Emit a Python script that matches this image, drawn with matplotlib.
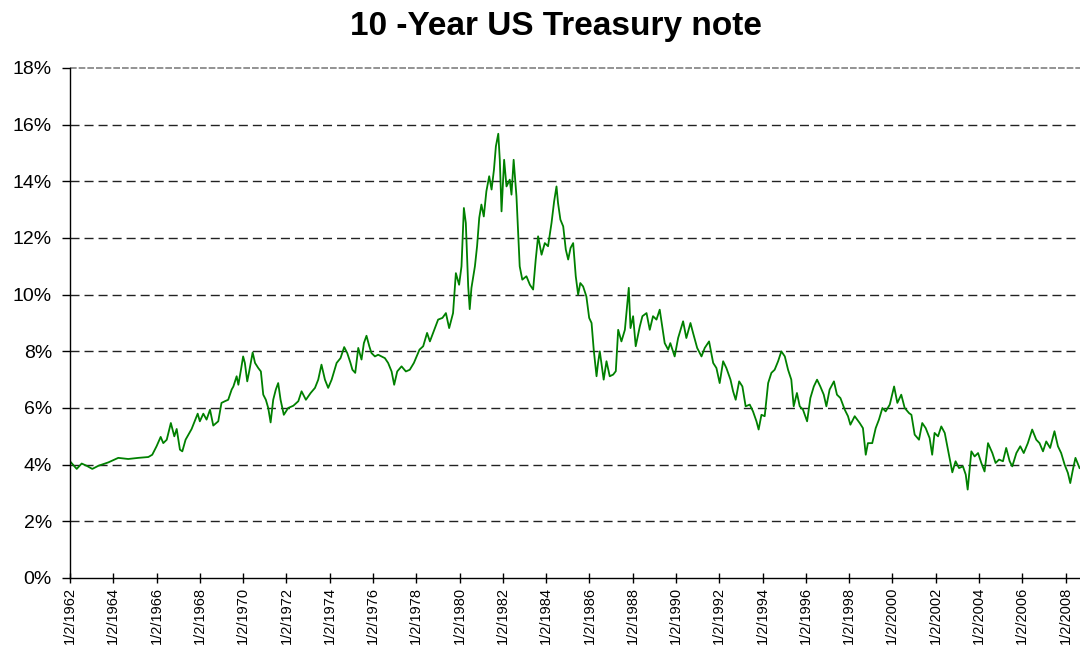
import numpy as np
import matplotlib.pyplot as plt

# 10-year note yield in percent; x is years elapsed since 1/2/1962
years_since_1962 = [
    0.00, 0.31, 0.54, 0.77, 1.03, 1.31, 1.77, 2.23, 2.69, 3.16,
    3.62, 3.80, 4.00, 4.19, 4.31, 4.47, 4.66, 4.82, 4.93, 5.08,
    5.19, 5.34, 5.62, 5.90, 6.00, 6.16, 6.31, 6.47, 6.62, 6.85,
    7.00, 7.16, 7.31, 7.47, 7.55, 7.70, 7.78, 7.90, 8.00, 8.08,
    8.19, 8.28, 8.44, 8.55, 8.70, 8.82, 8.93, 9.05, 9.16, 9.27,
    9.39, 9.51, 9.62, 9.73, 9.88, 10.08, 10.32, 10.55, 10.70, 10.90,
    11.12, 11.32, 11.47, 11.62, 11.78, 11.93, 12.09, 12.32, 12.50, 12.67,
    12.81, 12.96, 13.05, 13.18, 13.32, 13.47, 13.58, 13.70, 13.83, 13.93,
    14.09, 14.24, 14.40, 14.55, 14.70, 14.86, 14.98, 15.12, 15.32, 15.52,
    15.70, 15.89, 16.15, 16.32, 16.50, 16.63, 16.86, 17.01, 17.21, 17.37,
    17.52, 17.70, 17.83, 17.98, 18.09, 18.20, 18.29, 18.40, 18.47, 18.55,
    18.71, 18.81, 18.91, 19.01, 19.12, 19.24, 19.37, 19.48, 19.59, 19.68,
    19.79, 19.86, 19.94, 20.06, 20.17, 20.32, 20.40, 20.50, 20.63, 20.70,
    20.78, 20.90, 21.09, 21.25, 21.40, 21.52, 21.63, 21.79, 21.94, 22.09,
    22.25, 22.37, 22.48, 22.55, 22.66, 22.79, 22.91, 23.02, 23.13, 23.25,
    23.37, 23.48, 23.58, 23.71, 23.86, 23.99, 24.10, 24.20, 24.33, 24.40,
    24.48, 24.66, 24.79, 24.94, 25.10, 25.22, 25.33, 25.48, 25.64, 25.71,
    25.82, 25.90, 26.02, 26.14, 26.33, 26.45, 26.64, 26.79, 26.94, 27.10,
    27.25, 27.48, 27.64, 27.74, 27.94, 28.10, 28.33, 28.48, 28.67, 28.79,
    28.98, 29.18, 29.33, 29.53, 29.72, 29.87, 30.02, 30.18, 30.33, 30.52,
    30.64, 30.76, 30.92, 31.07, 31.22, 31.41, 31.56, 31.72, 31.82, 31.95,
    32.10, 32.26, 32.41, 32.56, 32.72, 32.87, 33.03, 33.18, 33.33, 33.44,
    33.59, 33.72, 33.87, 34.06, 34.21, 34.37, 34.52, 34.67, 34.83, 34.95,
    35.10, 35.30, 35.44, 35.60, 35.80, 35.95, 36.06, 36.26, 36.49, 36.64,
    36.77, 36.87, 37.07, 37.23, 37.38, 37.54, 37.69, 37.88, 38.08, 38.23,
    38.41, 38.57, 38.77, 38.88, 39.03, 39.23, 39.38, 39.54, 39.72, 39.84,
    39.95, 40.11, 40.26, 40.42, 40.57, 40.77, 40.92, 41.08, 41.26, 41.39,
    41.48, 41.65, 41.80, 41.96, 42.11, 42.26, 42.42, 42.62, 42.77, 42.93,
    43.11, 43.26, 43.42, 43.54, 43.73, 43.91, 44.07, 44.26, 44.46, 44.65,
    44.80, 44.96, 45.11, 45.29, 45.49, 45.65, 45.80, 45.96, 46.11, 46.22,
    46.34, 46.46, 46.65,
]
yields = [
    4.12, 3.85, 4.04, 3.96, 3.85, 3.96, 4.08, 4.24, 4.20, 4.24,
    4.27, 4.35, 4.65, 4.98, 4.76, 4.88, 5.47, 5.00, 5.26, 4.53,
    4.47, 4.88, 5.26, 5.80, 5.53, 5.80, 5.59, 5.94, 5.38, 5.53,
    6.18, 6.24, 6.29, 6.65, 6.76, 7.12, 6.82, 7.35, 7.82, 7.59,
    6.94, 7.29, 7.96, 7.59, 7.41, 7.29, 6.47, 6.29, 6.00, 5.49,
    6.29, 6.65, 6.88, 6.29, 5.76, 6.00, 6.08, 6.24, 6.59, 6.29,
    6.53, 6.71, 7.00, 7.53, 7.00, 6.71, 7.00, 7.59, 7.76, 8.15,
    7.94, 7.59, 7.35, 7.24, 8.12, 7.71, 8.29, 8.55, 8.18, 7.94,
    7.82, 7.88, 7.82, 7.76, 7.59, 7.29, 6.82, 7.29, 7.47, 7.29,
    7.35, 7.59, 8.06, 8.18, 8.65, 8.35, 8.82, 9.12, 9.18, 9.35,
    8.82, 9.35, 10.76, 10.35, 11.00, 13.06, 12.53, 10.29, 9.49, 10.24,
    11.00, 11.71, 12.71, 13.18, 12.76, 13.65, 14.18, 13.71, 14.41, 15.24,
    15.68, 14.76, 12.94, 14.76, 13.82, 14.06, 13.53, 14.76, 13.47, 12.29,
    11.00, 10.53, 10.65, 10.35, 10.18, 11.24, 12.06, 11.41, 11.82, 11.71,
    12.53, 13.29, 13.82, 13.24, 12.65, 12.41, 11.59, 11.24, 11.65, 11.82,
    10.65, 10.00, 10.41, 10.29, 9.94, 9.18, 9.00, 8.06, 7.12, 7.59,
    8.00, 7.00, 7.65, 7.12, 7.18, 7.30, 8.76, 8.35, 8.76, 9.35,
    10.24, 8.82, 9.24, 8.18, 8.88, 9.24, 9.35, 8.76, 9.24, 9.12,
    9.47, 8.29, 8.06, 8.29, 7.82, 8.47, 9.06, 8.47, 9.00, 8.65,
    8.12, 7.82, 8.12, 8.35, 7.59, 7.41, 6.88, 7.65, 7.41, 7.00,
    6.59, 6.29, 6.94, 6.76, 6.06, 6.12, 5.88, 5.53, 5.24, 5.76,
    5.71, 6.88, 7.24, 7.35, 7.65, 8.00, 7.82, 7.35, 7.00, 6.06,
    6.53, 6.06, 5.94, 5.53, 6.35, 6.76, 7.00, 6.76, 6.47, 6.06,
    6.65, 6.94, 6.47, 6.35, 5.94, 5.71, 5.41, 5.71, 5.47, 5.29,
    4.35, 4.76, 4.76, 5.29, 5.59, 6.00, 5.88, 6.12, 6.76, 6.18,
    6.47, 6.00, 5.82, 5.76, 5.06, 4.88, 5.47, 5.29, 4.94, 4.35,
    5.12, 5.00, 5.35, 5.12, 4.53, 3.73, 4.12, 3.88, 3.94, 3.65,
    3.12, 4.47, 4.29, 4.41, 4.06, 3.76, 4.76, 4.41, 4.06, 4.18,
    4.12, 4.59, 4.12, 3.94, 4.41, 4.65, 4.41, 4.76, 5.24, 4.88,
    4.76, 4.47, 4.82, 4.59, 5.18, 4.65, 4.41, 4.00, 3.71, 3.35,
    3.82, 4.24, 3.88,
]
tick_years = list(range(1962, 2009, 2))
pct_ticks = list(range(0, 19, 2))

plt.rcParams['font.family'] = ['Liberation Sans', 'DejaVu Sans']

t = 1962 + np.array(years_since_1962)

fig = plt.figure(figsize=(10.8, 6.5), dpi=100)
ax = fig.add_axes([70 / 1080, 72 / 650, 1 - 70 / 1080, 510 / 650])

for v in pct_ticks[1:-1]:
    ax.axhline(v, color='#222222', lw=1, ls=(0, (6.5, 3.6)), zorder=0)
ax.axhline(18, color='#808080', lw=1.2, ls=(0, (4, 1.2)), zorder=0, clip_on=False)

ax.plot(t, yields, color='#008000', lw=1.3)

ax.set_xlim(1962, 1962 + 46.67)
ax.set_ylim(0, 18)
ax.set_yticks(pct_ticks)
ax.set_yticklabels([f'{v}%' for v in pct_ticks])
ax.set_xticks(tick_years)
ax.set_xticklabels([f'1/2/{y}' for y in tick_years], rotation=90, va='top')

ax.tick_params(axis='y', direction='out', length=6, width=1, labelsize=14, pad=7)
ax.tick_params(axis='x', direction='inout', length=7, width=1, labelsize=10.5, pad=3)

for side in ['top', 'right']:
    ax.spines[side].set_visible(False)
for side in ['left', 'bottom']:
    ax.spines[side].set_color('black')
    ax.spines[side].set_linewidth(1)

fig.text(0.515, 1 - 27 / 650, '10 -Year US Treasury note', ha='center', va='center',
         fontsize=24, fontweight='bold')

fig.savefig('out.png', dpi=100)
